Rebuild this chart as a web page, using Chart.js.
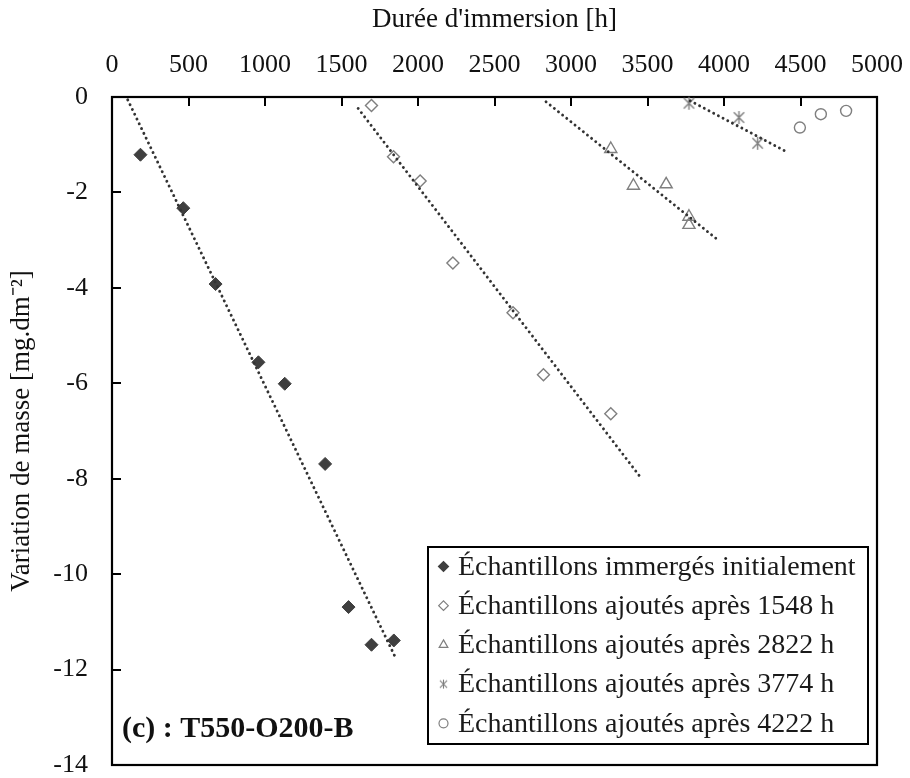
<!DOCTYPE html>
<html>
<head>
<meta charset="utf-8">
<script src="https://cdn.jsdelivr.net/npm/chart.js@4.4.1/dist/chart.umd.min.js"></script>
<style>
  html, body { margin: 0; padding: 0; background: #ffffff; }
  #wrap { width: 910px; height: 778px; position: relative; }
</style>
</head>
<body>
<div id="wrap"><canvas id="c" width="910" height="778"></canvas></div>
<script>
// ---------- data ----------
const xTickLabels = ['0', '500', '1000', '1500', '2000', '2500', '3000', '3500', '4000', '4500', '5000'];
const yTickLabels = ['-14', '-12', '-10', '-8', '-6', '-4', '-2', '0'];

const seriesNames = [
  'Échantillons immergés initialement',
  'Échantillons ajoutés après 1548 h',
  'Échantillons ajoutés après 2822 h',
  'Échantillons ajoutés après 3774 h',
  'Échantillons ajoutés après 4222 h'
];

const hoursInitial = [186, 466, 677, 957, 1129, 1393, 1546, 1696, 1842];
const massInitial  = [-1.21, -2.33, -3.92, -5.56, -6.01, -7.69, -10.69, -11.48, -11.39];

const hours1548 = [1696, 1840, 2014, 2228, 2621, 2820, 3260];
const mass1548  = [-0.18, -1.25, -1.76, -3.48, -4.52, -5.82, -6.64];

const hours2822 = [3260, 3408, 3622, 3771, 3771];
const mass2822  = [-1.09, -1.86, -1.83, -2.51, -2.68];

const hours3774 = [3771, 4098, 4220];
const mass3774  = [-0.13, -0.43, -0.97];

const hours4222 = [4496, 4633, 4798];
const mass4222  = [-0.64, -0.36, -0.29];

// trend-line end points (dotted linear fits)
const trendInitialX = [103, 1853];
const trendInitialY = [-0.06, -11.75];
const trend1548X = [1609, 3452];
const trend1548Y = [-0.24, -7.96];
const trend2822X = [2837, 3954];
const trend2822Y = [-0.10, -2.98];
const trend3774X = [3779, 4405];
const trend3774Y = [-0.08, -1.14];

const annotationText = '(c) : T550-O200-B';

// ---------- helpers ----------
const pts = (xs, ys) => xs.map((x, i) => ({ x: x, y: ys[i] }));
const FONT = "'Liberation Serif', 'Times New Roman', serif";
const GRAY = '#7f7f7f';
const DARK = '#3f3f3f';
const NONE = 'rgba(0,0,0,0)';

function makeAsterisk(size, lw) {
  const cv = document.createElement('canvas');
  cv.width = size; cv.height = size;
  const g = cv.getContext('2d');
  const c = size / 2, r = size / 2 - 1;
  g.strokeStyle = GRAY; g.lineWidth = lw;
  g.beginPath();
  g.moveTo(c, c - r); g.lineTo(c, c + r);
  const d = r * 0.8;
  g.moveTo(c - d, c - d); g.lineTo(c + d, c + d);
  g.moveTo(c + d, c - d); g.lineTo(c - d, c + d);
  g.stroke();
  return cv;
}
const asteriskBig = makeAsterisk(15, 1.4);
const asteriskSmall = makeAsterisk(11, 1.1);

const pointSets = [
  { label: seriesNames[0], data: pts(hoursInitial, massInitial), pointStyle: 'rectRot', pointRadius: 6.5,
    backgroundColor: DARK, borderColor: DARK, pointBorderWidth: 1, legendStyle: 'rectRot', legendRadius: 5, legendFill: DARK },
  { label: seriesNames[1], data: pts(hours1548, mass1548), pointStyle: 'rectRot', pointRadius: 6,
    backgroundColor: NONE, borderColor: GRAY, pointBorderWidth: 1.4, legendStyle: 'rectRot', legendRadius: 4.8, legendFill: NONE },
  { label: seriesNames[2], data: pts(hours2822, mass2822), pointStyle: 'triangle', pointRadius: 7,
    backgroundColor: NONE, borderColor: GRAY, pointBorderWidth: 1.4, legendStyle: 'triangle', legendRadius: 5, legendFill: NONE },
  { label: seriesNames[3], data: pts(hours3774, mass3774), pointStyle: asteriskBig, pointRadius: 7,
    backgroundColor: GRAY, borderColor: GRAY, pointBorderWidth: 1, legendStyle: asteriskSmall, legendRadius: 5, legendFill: GRAY },
  { label: seriesNames[4], data: pts(hours4222, mass4222), pointStyle: 'circle', pointRadius: 5.5,
    backgroundColor: NONE, borderColor: GRAY, pointBorderWidth: 1.4, legendStyle: 'circle', legendRadius: 4.5, legendFill: NONE }
].map(d => Object.assign(d, { type: 'scatter', showLine: false, order: 1, clip: false, isSeries: true }));

const trendSets = [
  [trendInitialX, trendInitialY], [trend1548X, trend1548Y], [trend2822X, trend2822Y], [trend3774X, trend3774Y]
].map(t => ({
  type: 'line', label: '', data: pts(t[0], t[1]), showLine: true, pointRadius: 0,
  borderColor: '#333333', borderWidth: 2.9, borderDash: [0.01, 5.3], borderCapStyle: 'round',
  fill: false, order: 0, clip: false, isSeries: false
}));

// ---------- plugins ----------
const framePlugin = {
  id: 'frame',
  beforeDatasetsDraw(chart) {
    const { ctx, chartArea: a, scales: { x, y } } = chart;
    ctx.save();
    ctx.strokeStyle = '#000';
    ctx.lineWidth = 2;
    ctx.beginPath();
    x.ticks.forEach(t => {
      if (t.value <= x.min || t.value >= x.max) return;
      const px = Math.round(x.getPixelForValue(t.value));
      ctx.moveTo(px, a.top); ctx.lineTo(px, a.top + 9);
    });
    y.ticks.forEach(t => {
      if (t.value <= y.min || t.value >= y.max) return;
      const py = Math.round(y.getPixelForValue(t.value));
      ctx.moveTo(a.left, py); ctx.lineTo(a.left + 9, py);
    });
    ctx.stroke();
    ctx.lineWidth = 2.2;
    ctx.strokeRect(a.left, a.top, a.right - a.left, a.bottom - a.top);
    ctx.restore();
  }
};

const legendPlugin = {
  id: 'boxLegend',
  afterDraw(chart) {
    const { ctx, chartArea: a } = chart;
    const series = chart.data.datasets.filter(d => d.isSeries);
    const boxRight = a.right - 9;
    const boxLeft = a.left + 316;
    const boxBottom = a.bottom - 21;
    const rowH = 39.2;
    const boxTop = boxBottom - rowH * series.length - 1;
    ctx.save();
    ctx.fillStyle = '#fff';
    ctx.fillRect(boxLeft, boxTop, boxRight - boxLeft, boxBottom - boxTop);
    ctx.strokeStyle = '#000';
    ctx.lineWidth = 2;
    ctx.strokeRect(boxLeft, boxTop, boxRight - boxLeft, boxBottom - boxTop);
    series.forEach((d, i) => {
      const cy = boxTop + 19.5 + i * rowH;
      const mx = boxLeft + 15.5;
      ctx.fillStyle = d.legendFill;
      ctx.strokeStyle = d.borderColor;
      ctx.lineWidth = 1.2;
      Chart.helpers.drawPoint(ctx, {
        pointStyle: d.legendStyle, radius: d.legendRadius, rotation: 0, borderWidth: 1.2
      }, mx, cy);
      ctx.font = '28px ' + FONT;
      ctx.textBaseline = 'middle';
      ctx.textAlign = 'left';
      ctx.fillStyle = '#1a1a1a';
      ctx.fillText(d.label, boxLeft + 30, cy + 1);
    });
    // panel annotation
    ctx.font = 'bold 30px ' + FONT;
    ctx.fillStyle = '#111';
    ctx.textBaseline = 'alphabetic';
    ctx.textAlign = 'left';
    ctx.fillText(annotationText, a.left + 10, a.bottom - 28);
    ctx.restore();
  }
};

// ---------- chart ----------
new Chart(document.getElementById('c'), {
  type: 'scatter',
  data: { datasets: pointSets.concat(trendSets) },
  options: {
    responsive: false,
    devicePixelRatio: 1,
    animation: false,
    events: [],
    layout: { padding: { left: 0, top: 0, right: 33, bottom: 13 } },
    plugins: { legend: { display: false }, tooltip: { enabled: false } },
    scales: {
      x: {
        type: 'linear', position: 'top', min: 0, max: 5000,
        afterFit(scale) { scale.height = 97; scale.paddingLeft = 0; scale.paddingRight = 0; },
        ticks: {
          stepSize: 500, padding: 16, color: '#111', maxRotation: 0, autoSkip: false,
          font: { family: FONT, size: 26 },
          callback: (v, i) => xTickLabels[i]
        },
        grid: { display: false, drawTicks: false },
        border: { display: false },
        title: {
          display: true, text: "Durée d'immersion [h]", color: '#111',
          font: { family: FONT, size: 27 }, padding: { top: 4, bottom: 0 }
        }
      },
      y: {
        type: 'linear', position: 'left', min: -14, max: 0,
        afterFit(scale) { scale.width = 112; scale.paddingTop = 0; scale.paddingBottom = 0; },
        ticks: {
          stepSize: 2, padding: 24, color: '#111', autoSkip: false,
          font: { family: FONT, size: 26 },
          callback: (v, i) => yTickLabels[i]
        },
        grid: { display: false, drawTicks: false },
        border: { display: false },
        title: {
          display: true, text: 'Variation de masse [mg.dm⁻²]', color: '#111',
          font: { family: FONT, size: 27 }, padding: { top: 6, bottom: 0 }
        }
      }
    }
  },
  plugins: [framePlugin, legendPlugin]
});
</script>
</body>
</html>
